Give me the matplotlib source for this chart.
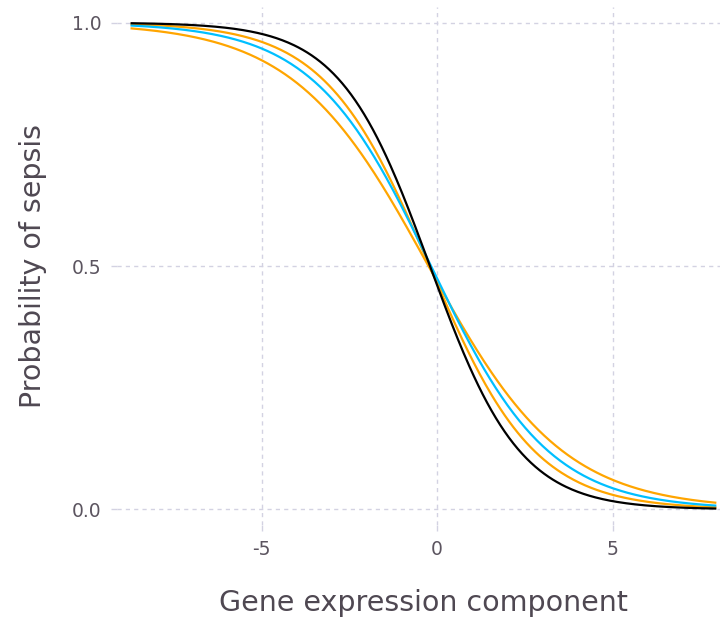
import matplotlib.pyplot as plt
import numpy as np

plt.rcParams['font.family'] = ['DejaVu Sans']
plt.rcParams['axes.unicode_minus'] = False

# logistic curves p = 1 / (1 + exp(-(a + b*x))), coefficients
x_range = [-8.7, 7.92]
curve_names = ["upper", "lower", "median", "mean"]
intercepts = [-0.13, -0.145, -0.105, -0.16]
slopes = [-0.522, -0.667, -0.597, -0.78]
colors = ["orange", "orange", "deepskyblue", "black"]

x_ticks = [-5, 0, 5]
y_ticks = [0.0, 0.5, 1.0]

fig = plt.figure(figsize=(7.2, 6.17), dpi=100)
ax = fig.add_axes([117/720, 92/617, 613/720, 518/617])

xs = np.linspace(x_range[0], x_range[1], 400)
for a, b, c, name in zip(intercepts, slopes, colors, curve_names):
    p = 1.0/(1.0+np.exp(-(a+b*xs)))
    ax.plot(xs, p, color=c, linewidth=1.6, label=name, zorder=3)

ax.set_xlim(-9.117, 8.34)
ax.set_ylim(-0.032, 1.032)
ax.set_xticks(x_ticks)
ax.set_xticklabels(["-5", "0", "5"])
ax.set_yticks(y_ticks)
ax.set_yticklabels(["0.0", "0.5", "1.0"])

for s in ax.spines.values():
    s.set_visible(False)
ax.grid(True, color="#d3d2e2", linestyle=(0, (3, 3)), linewidth=1.0)
ax.set_axisbelow(True)
ax.tick_params(colors="#d3d2e2", labelcolor="#5c5560", labelsize=13.5, length=4, width=1, pad=7)

ax.set_xlabel("Gene expression component", fontsize=20.5, color="#4f4852", va="center")
ax.xaxis.set_label_coords(0.5, -0.15)
ax.set_ylabel("Probability of sepsis", fontsize=20.5, color="#4f4852", va="center")
ax.yaxis.set_label_coords(-0.137, 0.5)

fig.savefig("out.png", dpi=100)
